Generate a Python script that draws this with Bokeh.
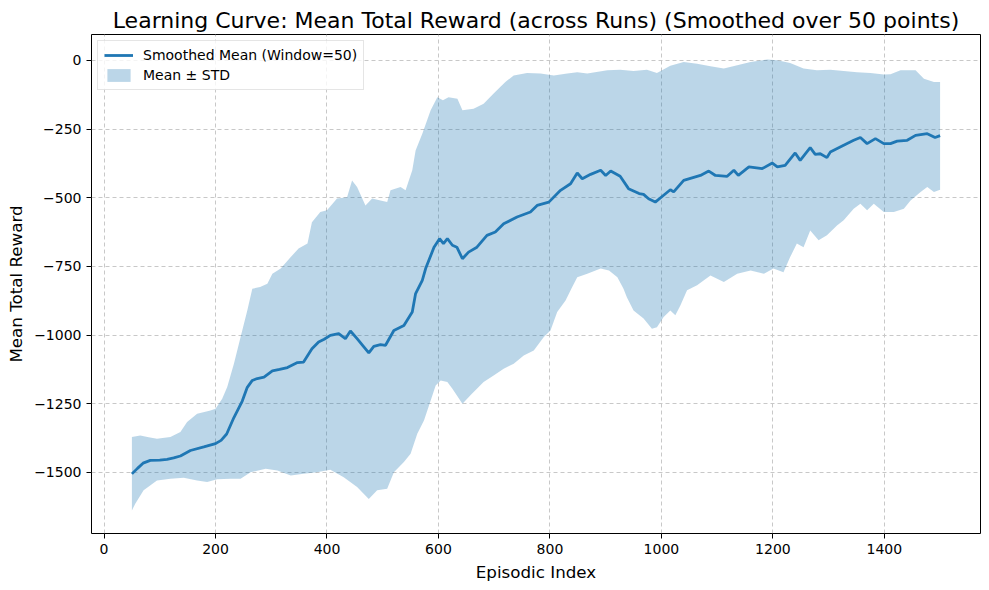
from bokeh.plotting import figure
from bokeh.models import Range1d, SingleIntervalTicker, CustomJSTickFormatter, Legend, LegendItem
from bokeh.embed import file_html
from bokeh.resources import INLINE

title_text = "Learning Curve: Mean Total Reward (across Runs) (Smoothed over 50 points)"
x_label = "Episodic Index"
y_label = "Mean Total Reward"
mean_label = "Smoothed Mean (Window=50)"
band_label = "Mean \u00b1 STD"

mean_x = [50, 60, 70, 83, 100, 113, 125, 137, 155, 179, 200, 210, 220, 233, 248, 257, 266, 275, 287, 302,
          315, 329, 347, 358, 373, 385, 395, 406, 421, 433, 442, 454, 465, 475, 484, 496, 505, 520, 538, 553,
          559, 571, 577, 592, 602, 609, 616, 625, 633, 643, 654, 669, 687, 702, 717, 741, 765, 777, 798, 819,
          837, 849, 858, 873, 891, 900, 909, 926, 941, 960, 968, 977, 989, 1004, 1016, 1022, 1040, 1070, 1085, 1097,
          1118, 1130, 1138, 1157, 1181, 1199, 1208, 1222, 1240, 1249, 1267, 1276, 1285, 1297, 1303, 1327, 1345, 1357, 1369, 1384,
          1399, 1411, 1423, 1441, 1456, 1477, 1491, 1500]
mean_y = [-1505, -1485, -1466, -1456, -1455, -1452, -1447, -1440, -1420, -1407, -1395, -1383, -1360, -1300, -1240, -1190, -1165, -1158, -1153, -1130,
          -1125, -1118, -1100, -1098, -1050, -1025, -1015, -1001, -995, -1013, -985, -1013, -1040, -1065, -1041, -1035, -1037, -983, -965, -916,
          -849, -801, -758, -680, -649, -667, -649, -673, -680, -722, -698, -680, -637, -625, -595, -570, -552, -528, -516, -473,
          -449, -410, -431, -415, -400, -419, -403, -422, -467, -485, -488, -504, -516, -491, -471, -479, -437, -419, -403, -419,
          -422, -400, -419, -388, -394, -374, -388, -382, -337, -364, -318, -342, -340, -354, -334, -309, -291, -281, -303, -285,
          -303, -303, -294, -291, -273, -267, -281, -274]

upper_x = [50, 65, 80, 95, 119, 137, 149, 167, 191, 200, 212, 221, 233, 245, 257, 266, 280, 293, 302, 317,
           335, 349, 365, 373, 388, 400, 418, 436, 445, 454, 469, 481, 496, 508, 514, 532, 541, 553, 559, 571,
           586, 598, 608, 618, 634, 643, 663, 681, 699, 720, 735, 759, 783, 807, 831, 849, 867, 903, 926, 950,
           974, 992, 1016, 1040, 1064, 1088, 1112, 1136, 1160, 1190, 1208, 1231, 1255, 1279, 1303, 1327, 1351, 1375, 1399, 1411,
           1429, 1456, 1471, 1489, 1500]
upper_y = [-1371, -1365, -1372, -1377, -1371, -1353, -1316, -1286, -1274, -1268, -1232, -1189, -1104, -1007, -910, -831, -825, -813, -777, -758,
           -716, -685, -667, -589, -552, -546, -503, -498, -437, -461, -528, -503, -510, -516, -473, -461, -473, -400, -328, -267,
           -182, -134, -145, -134, -140, -182, -176, -158, -121, -79, -55, -46, -48, -55, -48, -43, -48, -36, -34, -39,
           -34, -46, -20, -6, -12, -22, -30, -18, -6, 3, 0, -10, -30, -36, -34, -39, -43, -46, -52, -51,
           -36, -36, -67, -79, -79]

lower_x = [50, 56, 71, 95, 119, 143, 167, 185, 203, 227, 245, 263, 290, 311, 335, 358, 382, 406, 430, 454,
           475, 490, 508, 520, 538, 550, 562, 574, 583, 595, 604, 616, 625, 643, 660, 681, 699, 717, 735, 753,
           771, 789, 801, 813, 828, 840, 849, 867, 891, 906, 921, 932, 938, 950, 968, 983, 992, 1004, 1016, 1025,
           1034, 1046, 1064, 1088, 1112, 1136, 1160, 1184, 1201, 1219, 1231, 1243, 1255, 1267, 1282, 1297, 1315, 1327, 1345, 1357,
           1369, 1381, 1399, 1417, 1435, 1447, 1465, 1477, 1489, 1500]
lower_y = [-1638, -1614, -1565, -1529, -1523, -1519, -1529, -1535, -1525, -1523, -1523, -1499, -1486, -1493, -1511, -1505, -1499, -1490, -1517, -1553,
           -1596, -1565, -1559, -1499, -1462, -1432, -1359, -1311, -1256, -1183, -1165, -1171, -1195, -1250, -1213, -1171, -1147, -1122, -1104, -1074,
           -1056, -1007, -983, -916, -874, -825, -789, -777, -758, -765, -789, -831, -862, -910, -940, -977, -971, -934, -910, -928,
           -892, -837, -819, -783, -807, -777, -765, -777, -758, -771, -716, -667, -680, -619, -655, -637, -601, -582, -540, -522,
           -546, -522, -552, -552, -540, -510, -479, -461, -479, -471]

FONT = "DejaVu Sans"
BLUE = "#1f77b4"

p = figure(width=989, height=590, output_backend="svg", toolbar_location=None,
           x_range=Range1d(-22.5, 1572.5), y_range=Range1d(-1722, 94),
           min_border_left=91, min_border_right=9, min_border_top=34, min_border_bottom=57)

band_xs = upper_x + lower_x[::-1]
band_ys = upper_y + lower_y[::-1]
band = p.patch(band_xs, band_ys, fill_color=BLUE, fill_alpha=0.3, line_color=None)
line = p.line(mean_x, mean_y, line_color=BLUE, line_width=2.8)

p.title.text = title_text
p.title.text_font = FONT
p.title.text_font_size = "22px"
p.title.text_font_style = "normal"
p.title.align = "center"
p.title.text_color = "black"
p.title.standoff = 3
p.title.offset = 0

p.outline_line_color = "black"
p.outline_line_width = 1
p.outline_line_alpha = 1

for ax in (p.xaxis[0], p.yaxis[0]):
    ax.axis_line_color = None
    ax.major_tick_out = 5
    ax.major_tick_in = 0
    ax.minor_tick_out = 0
    ax.minor_tick_in = 0
    ax.major_label_text_font = FONT
    ax.major_label_text_font_size = "14px"
    ax.major_label_text_color = "black"
    ax.axis_label_text_font = FONT
    ax.axis_label_text_font_size = "16.7px"
    ax.axis_label_text_font_style = "normal"
    ax.axis_label_text_color = "black"
    ax.major_label_standoff = 5
    ax.formatter = CustomJSTickFormatter(code="return tick < 0 ? '\\u2212' + Math.abs(tick) : tick.toString();")

p.xaxis[0].ticker = SingleIntervalTicker(interval=200, num_minor_ticks=0)
p.yaxis[0].ticker = SingleIntervalTicker(interval=250, num_minor_ticks=0)
p.xaxis[0].axis_label = x_label
p.yaxis[0].axis_label = y_label
p.xaxis[0].axis_label_standoff = 5
p.yaxis[0].axis_label_standoff = 5

for g in (p.xgrid[0], p.ygrid[0]):
    g.grid_line_color = "#c8c8c8"
    g.grid_line_dash = "4 3"
    g.grid_line_width = 1

legend = Legend(items=[LegendItem(label=mean_label, renderers=[line]),
                       LegendItem(label=band_label, renderers=[band])],
                location="top_left", margin=6, padding=6, spacing=4,
                label_text_font=FONT, label_text_font_size="14px", label_text_color="black",
                label_height=16, glyph_height=16, glyph_width=29, label_standoff=10,
                border_line_color="#cccccc", border_line_width=1,
                background_fill_color="white", background_fill_alpha=0.8)
p.add_layout(legend)

open("out.html", "w").write(file_html(p, INLINE))
